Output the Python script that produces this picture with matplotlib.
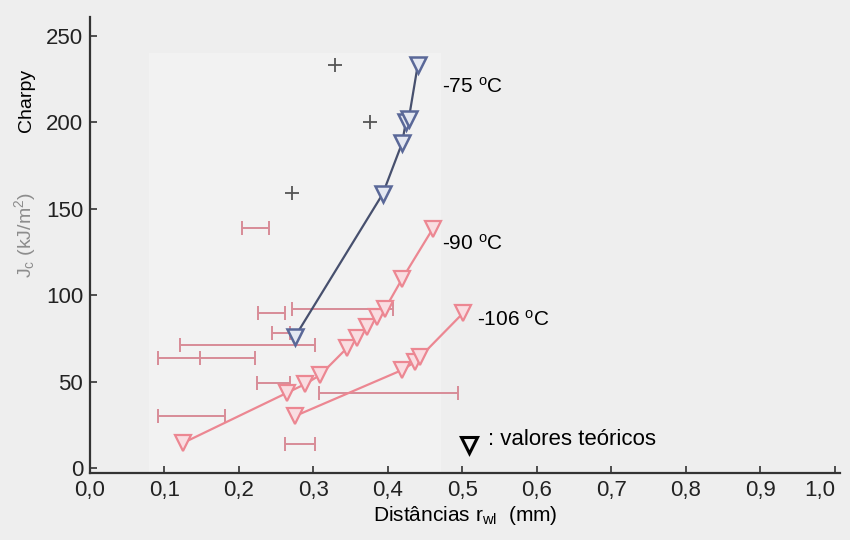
import numpy as np
import matplotlib
matplotlib.use("Agg")
import matplotlib.pyplot as plt
from matplotlib.patches import Rectangle

plt.rcParams['font.family'] = ['Liberation Sans', 'DejaVu Sans']
plt.rcParams['mathtext.fontset'] = 'custom'
plt.rcParams['mathtext.rm'] = 'Liberation Sans'
plt.rcParams['mathtext.it'] = 'Liberation Sans:italic'

# teoricos -75 C
x75 = [0.275, 0.393, 0.419, 0.424, 0.428, 0.440]
y75 = [75.8, 158.6, 188.0, 200.0, 202.0, 233.0]

# teoricos -90 C
x90 = [0.125, 0.264, 0.289, 0.309, 0.345, 0.358, 0.372, 0.385, 0.396, 0.419, 0.460]
y90 = [14.5, 43.4, 48.6, 53.8, 69.4, 75.2, 81.6, 87.4, 92.0, 109.4, 138.3]

# teoricos -106 C
x106 = [0.275, 0.419, 0.436, 0.443, 0.501]
y106 = [30.0, 56.7, 61.3, 64.2, 89.7]

# Charpy (pontos escuros)
xch = [0.271, 0.376, 0.329]
ych = [159.0, 200.0, 233.0]

# medidas com barras de erro
bar_y = [138.9, 92.0, 89.7, 78.0, 71.2, 63.7, 49.2, 43.4, 30.1, 13.9]
bar_lo = [0.204, 0.271, 0.226, 0.245, 0.121, 0.091, 0.224, 0.307, 0.091, 0.262]
bar_hi = [0.240, 0.407, 0.262, 0.268, 0.302, 0.221, 0.268, 0.494, 0.181, 0.302]
mid_x = [0.148]
mid_y = [63.7]

xticks = np.round(np.arange(0, 1.01, 0.1), 1)
xticklabels = [('%.1f' % t).replace('.', ',') for t in xticks]
yticks = [0, 50, 100, 150, 200, 250]

bg = '#eeeeee'
fig = plt.figure(figsize=(8.5, 5.4), dpi=100, facecolor=bg)
ax = fig.add_axes([90/850, 1-473/540, 750/850, 456/540])
ax.set_facecolor(bg)
ax.add_patch(Rectangle((0.078, 0.0), 0.39, 0.92, transform=ax.transAxes,
                       color='#f2f2f2', zorder=0, lw=0))

pink_bar = '#d88c97'
bar_mid = [(a + b) / 2 for a, b in zip(bar_lo, bar_hi)]
xerr = [[m - a for m, a in zip(bar_mid, bar_lo)], [b - m for m, b in zip(bar_mid, bar_hi)]]
ax.errorbar(bar_mid, bar_y, xerr=xerr, fmt='none', ecolor=pink_bar, elinewidth=1.4,
            capsize=5, capthick=1.4, zorder=2)
ax.plot(mid_x, mid_y, '|', color=pink_bar, ms=10, mew=1.4, zorder=2)

ax.plot(xch, ych, '+', color='#555555', ms=10, mew=1.3, zorder=3)

pink = '#ec8792'
ax.plot(x90, y90, '-', color=pink, lw=1.6, marker='v', ms=12, mew=1.6,
        mfc='#f9dde1', mec=pink, zorder=4)
ax.plot(x106, y106, '-', color=pink, lw=1.6, marker='v', ms=12, mew=1.6,
        mfc='#f9dde1', mec=pink, zorder=4)
ax.plot(x75, y75, '-', color='#47506e', lw=1.6, marker='v', ms=12, mew=1.8,
        mfc='#e4e8f2', mec='#5a6898', zorder=5)

ax.text(0.472, 220.5, r'-75 $^{\mathrm{o}}$C', fontsize=15, va='center', ha='left')
ax.text(0.472, 130.0, r'-90 $^{\mathrm{o}}$C', fontsize=15, va='center', ha='left')
ax.text(0.519, 85.6, r'-106 $^{\mathrm{o}}$C', fontsize=15, va='center', ha='left')

ax.plot([0.509], [13.3], 'v', ms=11, mew=2.2, mfc='none', mec='black')
ax.text(0.535, 16.2, ': valores teóricos', fontsize=16, va='center', ha='left')

ax.set_xlim(0, 1.007)
ax.set_ylim(-2.9, 261)
ax.set_xticks(xticks)
ax.set_xticklabels(xticklabels)
ax.set_yticks(yticks)
ax.tick_params(direction='in', length=5, width=1.1, labelsize=16, colors='#222222')
ax.tick_params(axis='x', pad=5)
ax.tick_params(axis='y', pad=5)
ax.get_xticklabels()[-1].set_horizontalalignment('right')
ax.get_xticklabels()[-1].set_x(1.0)
for s in ['top', 'right']:
    ax.spines[s].set_visible(False)
for s in ['left', 'bottom']:
    ax.spines[s].set_color('#333333')
    ax.spines[s].set_linewidth(1.6)

ax.set_xlabel(r'Distâncias r$_{\mathrm{wl}}$  (mm)', fontsize=15, labelpad=2)
fig.text(26/850, 1-100/540, 'Charpy', rotation=90, fontsize=14, ha='center', va='center')
fig.text(25/850, 1-235/540, r'J$_\mathrm{c}$ (kJ/m$^2$)', rotation=90, fontsize=14,
         ha='center', va='center', color='#8c8c8c')

fig.savefig('out.png', dpi=100, facecolor=bg)
